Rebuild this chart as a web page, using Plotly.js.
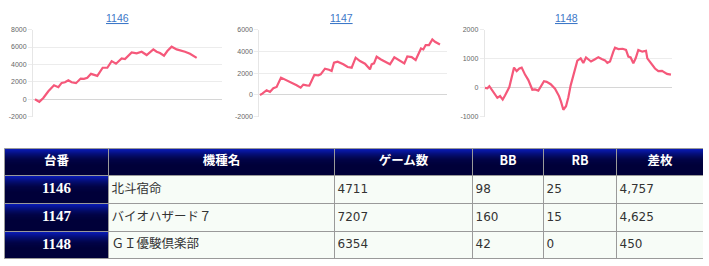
<!DOCTYPE html>
<html>
<head>
<meta charset="utf-8">
<script src="https://cdn.plot.ly/plotly-3.0.1.min.js"></script>
<style>html,body{margin:0;padding:0;background:#fff;}#chart{width:709px;height:266px;}</style>
</head>
<body>
<div id="chart"></div>
<script>
// ---- data ----
const machineIds = ['1146', '1147', '1148'];
const machineNames = ['北斗宿命', 'バイオハザード７', 'ＧＩ優駿倶楽部'];
const gameCounts = [4711, 7207, 6354];
const bbCounts = [98, 160, 42];
const rbCounts = [25, 15, 0];
const diffCoins = [4757, 4625, 450];
const tableHeaders = ['台番', '機種名', 'ゲーム数', 'BB', 'RB', '差枚'];

// slump graph 1146
const games1146 = [0,126,243,389,554,680,777,874,971,1068,1195,1331,1428,1525,1632,1700,1816,1972,2108,2234,2360,2525,2622,2817,2962,3108,3254,3448,3545,3642,3759,3856,3982,4128,4274,4371,4517,4711];
const coins1146 = [0,-300,150,920,1600,1380,1880,1960,2190,1960,1850,2380,2350,2460,2920,2850,2690,3620,3620,4380,4080,4690,4610,5380,5270,5460,5080,5730,5460,5310,5000,5540,6040,5730,5620,5460,5230,4757];
// slump graph 1147
const games1147 = [0,93,267,400,534,667,841,1001,1268,1468,1629,1735,1869,1976,2176,2336,2430,2603,2763,2870,2964,3110,3337,3511,3671,3831,4005,4205,4405,4472,4566,4672,4846,5033,5206,5380,5540,5700,5780,5900,6074,6234,6341,6448,6541,6635,6768,6902,7009,7115,7207];
const coins1147 = [0,120,430,275,610,730,1590,1430,1130,885,670,945,885,855,1830,1800,1890,2410,2320,2200,2960,3050,2810,2560,2500,3420,3110,2870,2350,2810,2900,3510,3260,3050,2810,3450,3230,3050,2900,3540,3480,3200,3720,4270,4180,4580,4580,5090,4880,4760,4625];
// slump graph 1148
const games1148 = [0,80,148,285,421,513,604,683,831,991,1082,1173,1253,1367,1481,1617,1708,1822,1936,2016,2107,2244,2392,2529,2597,2677,2768,2848,2927,3041,3155,3269,3360,3451,3531,3622,3759,3873,3986,4100,4180,4271,4385,4442,4556,4613,4704,4818,4898,4977,5069,5148,5239,5376,5501,5547,5661,5809,5923,6048,6219,6354];
const coins1148 = [-10,-20,50,-150,-350,-290,-410,-270,20,690,570,660,690,450,260,-70,-60,-100,100,220,200,120,-35,-290,-480,-760,-640,-330,80,550,930,1010,850,1040,965,900,980,1050,990,940,850,900,1240,1380,1330,1340,1340,1300,1070,1040,840,1010,1300,1240,1270,1010,870,660,570,580,475,450];

const yRanges = [[-2000, 8000], [-2000, 6000], [-1000, 2000]];
const yTicks = [[-2000, 0, 2000, 4000, 6000, 8000], [-2000, 0, 2000, 4000, 6000], [-1000, 0, 1000, 2000]];
const xRanges = [[-58, 5449], [-27, 7489], [-11, 6390]];

// ---- layout helpers ----
const W = 709, H = 266;
const px = v => v / W;
const py = v => 1 - v / H;
const lineColor = 'rgb(245,88,122)';

const xDomains = [[33, 222], [259.3, 447], [484.7, 672]];
const yDomain = [py(116.7), py(29.6)];
const titleX = [117, 341, 566];

const series = [[games1146, coins1146], [games1147, coins1147], [games1148, coins1148]];
const traces = series.map((s, i) => ({
  type: 'scatter', mode: 'lines',
  x: s[0], y: s[1],
  xaxis: i === 0 ? 'x' : 'x' + (i + 1),
  yaxis: i === 0 ? 'y' : 'y' + (i + 1),
  line: {color: lineColor, width: 2.2},
  hoverinfo: 'skip', showlegend: false
}));

// ---- table (drawn on its own cartesian grid, 1 unit = 1 px) ----
const colWidths = [104, 226, 138, 71, 73, 87];
const rowHeights = [27, 28, 28, 27];
const colEdges = colWidths.reduce((a, w) => a.concat(a[a.length - 1] + w), [0]);
const rowEdges = rowHeights.reduce((a, h) => a.concat(a[a.length - 1] + h), [0]);
const tableW = colEdges[colEdges.length - 1];
const tableH = rowEdges[rowEdges.length - 1];
const mint = '#f7fcf7';
// navy gradient bands within a row (offset from row top, intensity)
const bandOffsets = [0, 1, 2, 3, 4, 5, 6, 7, 8, 9, 10, 11, 12, 14, 16];
const bandLevels = [1, 0.9, 0.8, 0.7, 0.6, 0.5, 0.42, 0.34, 0.27, 0.21, 0.16, 0.12, 0.08, 0.04, 0.01];
const yBins = [];
const zBands = [];
rowHeights.forEach((h, r) => {
  bandOffsets.forEach((o, b) => {
    yBins.push(rowEdges[r] + o);
    zBands.push(colWidths.map((w, c) => (r === 0 || c === 0) ? bandLevels[b] : -1));
  });
});
yBins.push(tableH);

traces.push({
  type: 'heatmap', xaxis: 'x4', yaxis: 'y4',
  x: colEdges, y: yBins, z: zBands,
  zmin: -1, zmax: 1, showscale: false, hoverinfo: 'skip',
  colorscale: [[0, mint], [0.5, mint], [0.5, '#000038'], [1, '#0a1cb8']]
});

const fmt = n => n.toLocaleString('en-US');
const cjk = '"Noto Sans CJK JP", sans-serif';
const latin = '"DejaVu Sans", "Noto Sans CJK JP", sans-serif';
// header texts
traces.push({
  type: 'scatter', mode: 'text', xaxis: 'x4', yaxis: 'y4',
  x: colWidths.map((w, c) => colEdges[c] + w / 2),
  y: colWidths.map(() => rowHeights[0] / 2),
  text: tableHeaders.map(h => '<b>' + h + '</b>'),
  textposition: 'middle center',
  textfont: {family: cjk, size: 12.5, color: '#ffffff'},
  hoverinfo: 'skip', showlegend: false, cliponaxis: false
});
// id column
const rowCenters = machineIds.map((v, i) => rowEdges[i + 1] + rowHeights[i + 1] / 2);
traces.push({
  type: 'scatter', mode: 'text', xaxis: 'x4', yaxis: 'y4',
  x: machineIds.map(() => colWidths[0] / 2),
  y: rowCenters,
  text: machineIds.map(v => '<b>' + v + '</b>'),
  textposition: 'middle center',
  textfont: {family: '"Liberation Serif", serif', size: 15, color: '#ffffff'},
  hoverinfo: 'skip', showlegend: false, cliponaxis: false
});
// body texts
const bodyCols = [machineNames, gameCounts.map(String), bbCounts.map(String), rbCounts.map(String), diffCoins.map(fmt)];
const bx = [], by = [], bt = [], bfam = [], bsize = [];
bodyCols.forEach((col, ci) => {
  col.forEach((t, ri) => {
    bx.push(colEdges[ci + 1] + 3);
    by.push(rowCenters[ri]);
    bt.push(t);
    bfam.push(ci === 0 ? cjk : latin);
    bsize.push(ci === 0 ? 12.5 : 12);
  });
});
traces.push({
  type: 'scatter', mode: 'text', xaxis: 'x4', yaxis: 'y4',
  x: bx, y: by, text: bt,
  textposition: 'middle right',
  textfont: {family: bfam, size: bsize, color: '#333333'},
  hoverinfo: 'skip', showlegend: false, cliponaxis: false
});

// borders
const shapes = [];
colEdges.forEach(x => shapes.push({type: 'line', xref: 'x4', yref: 'y4', x0: x, x1: x, y0: 0, y1: tableH, line: {color: '#9a9a9a', width: 1}, layer: 'above'}));
rowEdges.forEach(y => shapes.push({type: 'line', xref: 'x4', yref: 'y4', x0: 0, x1: tableW, y0: y, y1: y, line: {color: '#9a9a9a', width: 1}, layer: 'above'}));

const layout = {
  width: W, height: H,
  margin: {l: 0, r: 0, t: 0, b: 0},
  paper_bgcolor: '#ffffff', plot_bgcolor: '#ffffff',
  showlegend: false,
  font: {family: '"Liberation Sans", Arial, sans-serif'},
  shapes: shapes,
  annotations: titleX.map((x, i) => ({
    text: '<u>' + machineIds[i] + '</u>',
    xref: 'paper', yref: 'paper', x: px(x), y: py(18),
    xanchor: 'center', yanchor: 'middle', showarrow: false,
    font: {size: 10.5, color: '#3d78c8'}
  })),
  xaxis4: {domain: [px(4), px(4 + tableW)], range: [-0.5, tableW - 0.5], visible: false, fixedrange: true, anchor: 'y4'},
  yaxis4: {domain: [py(148 + tableH + 1), py(148)], range: [tableH + 0.5, -0.5], visible: false, fixedrange: true, anchor: 'x4'}
};
for (let i = 0; i < 3; i++) {
  const sx = i === 0 ? '' : String(i + 1);
  layout['xaxis' + sx] = {
    domain: [px(xDomains[i][0]), px(xDomains[i][1])],
    range: xRanges[i], showgrid: false, zeroline: false,
    showticklabels: false, ticks: '', showline: false, fixedrange: true,
    anchor: 'y' + sx
  };
  layout['yaxis' + sx] = {
    domain: yDomain, range: yRanges[i],
    tickvals: yTicks[i], ticktext: yTicks[i].map(String),
    showgrid: true, gridcolor: '#ececec', gridwidth: 1,
    zeroline: true, zerolinecolor: '#d6d6d6', zerolinewidth: 1,
    showline: true, linecolor: '#e6e6e6', linewidth: 1,
    ticks: 'outside', ticklen: 4, tickcolor: '#ececec',
    tickfont: {size: 7, color: '#666666'},
    fixedrange: true, anchor: 'x' + sx
  };
}

Plotly.newPlot('chart', traces, layout, {staticPlot: true, displayModeBar: false});
</script>
</body>
</html>
